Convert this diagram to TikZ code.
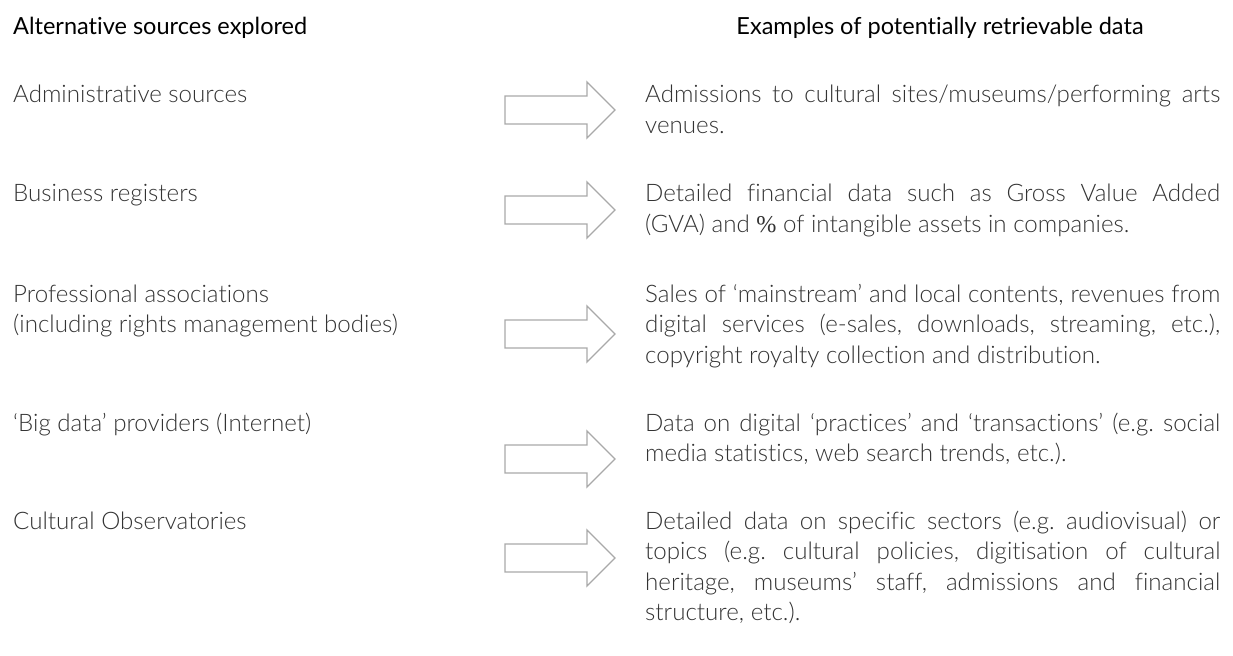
\documentclass[tikz,border=0pt]{standalone}
\usepackage{fontspec}
\newfontfamily\bodyfont{Lato Light}[Ligatures=NoCommon]
\newfontfamily\headfont{Lato}[Ligatures=NoCommon]
\newfontfamily\pctfont{Liberation Serif}
\definecolor{txt}{HTML}{333333}
\definecolor{arrowgray}{HTML}{A9A9A9}
\newlength\fitwd
\newcommand\jline[1]{\hbox{\makebox[575bp][s]{#1}}}
\newcommand\lline[1]{\hbox{#1}}
\newcommand\lines[1]{\vtop{\baselineskip=30.6bp\lineskiplimit=-20bp #1}}
\frenchspacing
\begin{document}%
\settowidth\fitwd{\bodyfont\fontsize{20bp}{24bp}\selectfont Administrative sources}%
\pgfmathsetmacro\bsz{20*234*1.00375/\fitwd}%
\settowidth\fitwd{\headfont\fontsize{20bp}{24bp}\selectfont Alternative sources explored}%
\pgfmathsetmacro\hsz{20*294*1.00375/\fitwd}%
\begin{tikzpicture}[x=1bp,y=-1bp]
\tikzset{
  body/.style={font=\bodyfont\fontsize{\bsz bp}{30.6bp}\selectfont, text=txt, inner sep=0pt, anchor=base west},
  head/.style={font=\headfont\fontsize{\hsz bp}{30bp}\selectfont, text=black, inner sep=0pt},
  blockarrow/.style={draw=arrowgray, line width=1.4bp, fill=white, line join=miter},
}
\fill[white] (0,0) rectangle (1233,656);
\useasboundingbox (0,0) rectangle (1233,656);

% headers
\node[head, anchor=base west] (hl) at (13,35) {Alternative sources explored};
\node[head, anchor=base] (hr) at (940,35) {Examples of potentially retrievable data};

% left column
\node[body] (l1) at (13,103) {Administrative sources};
\node[body] (l2) at (13,202) {Business registers};
\node[body] (l3) at (13,302) {\lines{\lline{Professional associations}\lline{(including rights management bodies)}}};
\node[body] (l4) at (13,431) {‘Big data’ providers (Internet)};
\node[body] (l5) at (13,529) {Cultural Observatories};

% right column
\node[body] (r1) at (645,103) {\lines{%
  \jline{Admissions to cultural sites/museums/performing arts}%
  \lline{venues.}}};
\node[body] (r2) at (645,202) {\lines{%
  \jline{Detailed financial data such as Gross Value Added}%
  \lline{(GVA) and {\pctfont\%} of intangible assets in companies.}}};
\node[body] (r3) at (645,302) {\lines{%
  \jline{Sales of ‘mainstream’ and local contents, revenues from}%
  \jline{digital services (e-sales, downloads, streaming, etc.),}%
  \lline{copyright royalty collection and distribution.}}};
\node[body] (r4) at (645,431) {\lines{%
  \jline{Data on digital ‘practices’ and ‘transactions’ (e.g. social}%
  \lline{media statistics, web search trends, etc.).}}};
\node[body] (r5) at (645,529) {\lines{%
  \jline{Detailed data on specific sectors (e.g. audiovisual) or}%
  \jline{topics (e.g. cultural policies, digitisation of cultural}%
  \jline{heritage, museums’ staff, admissions and financial}%
  \lline{structure, etc.).}}};

% block arrows
\foreach \cy in {110,210,334,459,558}
  \draw[blockarrow] (505,\cy-14) -- (587,\cy-14) -- (587,\cy-28) -- (615,\cy)
        -- (587,\cy+28) -- (587,\cy+14) -- (505,\cy+14) -- cycle;
\end{tikzpicture}%
\end{document}
